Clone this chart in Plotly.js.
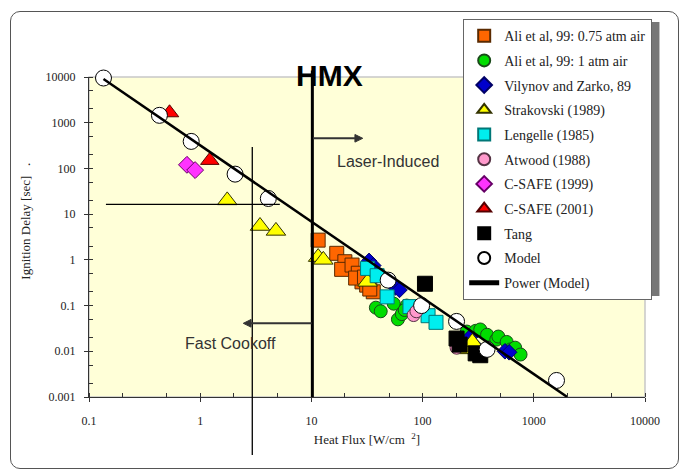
<!DOCTYPE html>
<html><head><meta charset="utf-8">
<script src="https://cdn.plot.ly/plotly-3.0.1.min.js"></script>
<style>
html,body{margin:0;padding:0;background:#fff;}
#wrap{position:relative;width:684px;height:473px;}
#chart{width:684px;height:473px;}
#frame{position:absolute;left:10px;top:11px;width:669px;height:458px;border:1.5px solid #555;border-radius:10px;pointer-events:none;box-sizing:border-box;}
</style>
</head><body><div id="wrap"><div id="chart"></div><div id="frame"></div></div>
<script>
// ---- data (heat flux W/cm^2, ignition delay s) ----
const ali075X = [11.5, 16.9, 20, 18.7, 23.2, 26.4, 28.5, 31.4, 36, 33.5, 25, 30];
const ali075Y = [2.7, 1.39, 0.91, 0.62, 0.77, 0.51, 0.33, 0.28, 0.2, 0.23, 0.4, 0.42];
const ali1X = [38, 42, 55, 60, 65, 72, 69, 250, 300, 330, 380, 460, 480, 570, 620, 680, 760];
const ali1Y = [0.09, 0.075, 0.11, 0.05, 0.065, 0.1, 0.08, 0.027, 0.028, 0.03, 0.023, 0.018, 0.021, 0.016, 0.011, 0.012, 0.0085];
const vilX = [33, 36, 57, 62, 265, 290, 550, 600];
const vilY = [0.95, 0.75, 0.25, 0.22, 0.02, 0.014, 0.01, 0.0095];
const strX = [1.75, 3.45, 4.8, 11.5, 12.8, 32, 245, 280];
const strY = [20, 5.5, 4.3, 1.15, 1.0, 0.33, 0.011, 0.016];
const lenX = [32, 39, 48, 77, 112, 132];
const lenY = [0.65, 0.45, 0.155, 0.095, 0.06, 0.043];
const atwX = [83, 88, 202, 215];
const atwY = [0.062, 0.075, 0.012, 0.015];
const cs99X = [0.76, 0.9];
const cs99Y = [120, 92];
const cs01X = [0.53, 1.22];
const cs01Y = [1650, 150];
const tangX = [105, 202, 215, 300, 330];
const tangY = [0.3, 0.019, 0.014, 0.009, 0.0082];
const modelX = [0.135, 0.43, 0.83, 2.06, 4.1, 49, 98, 202, 380, 1600];
const modelY = [9500, 1450, 390, 75, 22, 0.36, 0.1, 0.045, 0.011, 0.0023];
const powerX = [0.135, 2000];
const powerY = [9000, 0.001];
const seriesNames = ["Ali et al, 99: 0.75 atm air", "Ali et al, 99: 1 atm air", "Vilynov and Zarko, 89",
  "Strakovski (1989)", "Lengelle (1985)", "Atwood (1988)", "C-SAFE (1999)", "C-SAFE (2001)", "Tang", "Model", "Power (Model)"];
const xTickVals = [0.1, 1, 10, 100, 1000, 10000];
const xTickText = ["0.1", "1", "10", "100", "1000", "10000"];
const yTickVals = [0.001, 0.01, 0.1, 1, 10, 100, 1000, 10000];
const yTickText = ["0.001", "0.01", "0.1", "1", "10", "100", "1000", "10000"];
const hmxX = 10.2;        // HMX boundary heat flux
const cookX = 2.94;       // fast cook-off marker line
const cookY = 16.4;
const cookXRange = [0.142, 5.2];

const SERIF = "Liberation Serif, Times New Roman, serif";
const SANS = "Liberation Sans, Arial, sans-serif";

function pts(i, x, y, symbol, size, color, lineColor) {
  return {type: 'scatter', mode: 'markers', name: seriesNames[i], x: x, y: y,
    legendgroup: 'g' + i, cliponaxis: false,
    marker: {symbol: symbol, size: size, color: color, line: {color: lineColor, width: 1}}};
}
const data = [
  pts(0, ali075X, ali075Y, 'square', 14, '#FF6600', '#5a2a00'),
  pts(1, ali1X, ali1Y, 'circle', 13, '#00DD00', '#1a4a1a'),
  pts(2, vilX, vilY, 'diamond', 12, '#0000CC', '#000066'),
  pts(3, strX, strY, 'triangle-up', 17, '#FFFF00', '#333300'),
  pts(4, lenX, lenY, 'square', 14, '#00EEEE', '#007777'),
  pts(5, atwX, atwY, 'circle', 13, '#FF99CC', '#553344'),
  pts(6, cs99X, cs99Y, 'diamond', 13, '#FF33FF', '#660066'),
  pts(7, cs01X, cs01Y, 'triangle-up', 16, '#FF0000', '#550000'),
  pts(8, tangX, tangY, 'square', 15, '#000000', '#000000'),
  pts(9, modelX, modelY, 'circle', 16, '#FFFFFF', '#000000'),
  {type: 'scatter', mode: 'lines', name: seriesNames[10], x: powerX, y: powerY, legendgroup: 'g10',
   line: {color: '#000000', width: 2.5}}
];

// paper-coordinate helpers for arrow glyphs (annotation decoration)
const arrowR = {y: 0.8084, x0: 0.4029, x1: 0.4923};
const arrowL = {y: 0.2303, x0: 0.4005, x1: 0.2775};
const headW = 0.0140, headH = 0.0119;

const layout = {
  width: 684, height: 473,
  margin: {l: 89, r: 39, t: 77, b: 76},
  paper_bgcolor: '#FFFFFF', plot_bgcolor: '#FFFFD8',
  showlegend: true,
  legend: {x: 0.673, y: 1.181, xanchor: 'left', yanchor: 'top', bgcolor: '#FFFFFF',
    bordercolor: '#666', borderwidth: 1, font: {family: SERIF, size: 14, color: '#222'},
    traceorder: 'grouped', tracegroupgap: 3.5, itemsizing: 'constant', maxheight: 420},
  xaxis: {type: 'log', range: [-1, 4], tickvals: xTickVals, ticktext: xTickText,
    showgrid: false, zeroline: false, showline: true, linecolor: '#333', linewidth: 1.2,
    ticks: 'outside', ticklen: 4, tickcolor: '#333', ticklabelstandoff: 8,
    minor: {ticks: 'inside', ticklen: 4, tickcolor: '#333', showgrid: false},
    tickfont: {family: SERIF, size: 12, color: '#222'},
    title: {text: 'Heat Flux [W/cm\u00a0\u00a0<sup>2</sup>]', font: {family: SERIF, size: 13, color: '#222'}, standoff: 8}},
  yaxis: {type: 'log', range: [-3, 4], tickvals: yTickVals, ticktext: yTickText,
    showgrid: false, zeroline: false, showline: true, linecolor: '#333', linewidth: 1.2,
    ticks: 'outside', ticklen: 4, tickcolor: '#333', ticklabelstandoff: 6,
    minor: {ticks: 'inside', ticklen: 4, tickcolor: '#333', showgrid: false},
    tickfont: {family: SERIF, size: 12, color: '#222'}},
  shapes: [
    {type: 'rect', xref: 'paper', yref: 'paper', x0: 0, x1: 1, y0: 0, y1: 1, layer: 'below',
     line: {color: '#C8C8C8', width: 1.5}},
    {type: 'line', xref: 'x', yref: 'paper', x0: hmxX, x1: hmxX, y0: 0, y1: 1.02, line: {color: '#000', width: 3}},
    {type: 'line', xref: 'x', yref: 'paper', x0: cookX, x1: cookX, y0: -0.181, y1: 0.781, line: {color: '#000', width: 1.3}},
    {type: 'line', xref: 'x', yref: 'y', x0: cookXRange[0], x1: cookXRange[1], y0: cookY, y1: cookY, line: {color: '#000', width: 1.3}},
    {type: 'line', xref: 'paper', yref: 'paper', x0: arrowR.x0, x1: arrowR.x1 - headW, y0: arrowR.y, y1: arrowR.y, line: {color: '#333', width: 2}},
    {type: 'path', xref: 'paper', yref: 'paper', fillcolor: '#333', line: {color: '#333', width: 1},
     path: `M ${arrowR.x1},${arrowR.y} L ${arrowR.x1 - headW},${arrowR.y + headH} L ${arrowR.x1 - headW},${arrowR.y - headH} Z`},
    {type: 'line', xref: 'paper', yref: 'paper', x0: arrowL.x0, x1: arrowL.x1 + headW, y0: arrowL.y, y1: arrowL.y, line: {color: '#333', width: 2}},
    {type: 'path', xref: 'paper', yref: 'paper', fillcolor: '#333', line: {color: '#333', width: 1},
     path: `M ${arrowL.x1},${arrowL.y} L ${arrowL.x1 + headW},${arrowL.y + headH} L ${arrowL.x1 + headW},${arrowL.y - headH} Z`},
    // legend drop shadow
    {type: 'rect', xref: 'paper', yref: 'paper', x0: 0.683, x1: 1.026, y0: 0.316, y1: 1.172, layer: 'above',
     fillcolor: '#777', line: {width: 0}}
  ],
  annotations: [
    {xref: 'paper', yref: 'paper', x: 0.4317, y: 1.006, text: '<b>HMX</b>', showarrow: false,
     xanchor: 'center', yanchor: 'middle', font: {family: SANS, size: 30, color: '#000'}},
    {xref: 'paper', yref: 'paper', x: 0.5383, y: 0.7353, text: 'Laser-Induced', showarrow: false,
     xanchor: 'center', yanchor: 'middle', font: {family: SANS, size: 16, color: '#333'}},
    {xref: 'paper', yref: 'paper', x: 0.2551, y: 0.1678, text: 'Fast Cookoff', showarrow: false,
     xanchor: 'center', yanchor: 'middle', font: {family: SANS, size: 16, color: '#333'}},
    {xref: 'paper', yref: 'paper', x: -0.1133, y: 0.548, text: 'Ignition Delay [sec]\u00a0\u00a0\u00a0.', showarrow: false,
     textangle: -90, xanchor: 'center', yanchor: 'middle', font: {family: SERIF, size: 13, color: '#222'}}
  ]
};
Plotly.newPlot('chart', data, layout, {displayModeBar: false, staticPlot: true});
</script>
</body></html>
